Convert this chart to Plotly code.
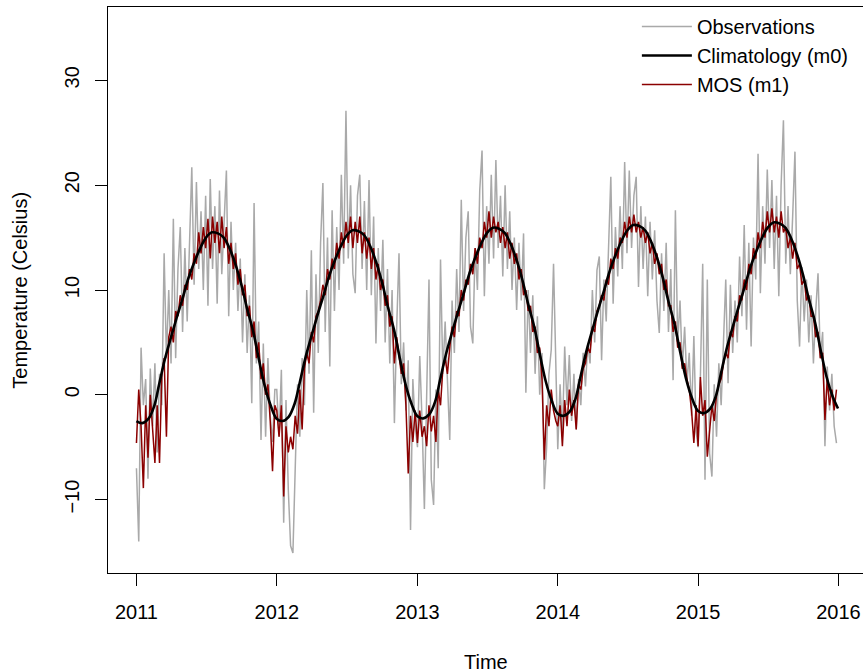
import pandas as pd
import plotly.graph_objects as go

years = [2011, 2012, 2013, 2014, 2015]
x_tick_labels = ["2011", "2012", "2013", "2014", "2015", "2016"]
y_tick_values = [-10, 0, 10, 20, 30]

# Observations, sampled every 6 days from Jan 1 of each year (61 per year)
obs_2011 = [-7.0, -14.0, 4.5, -1.0, 1.5, -8.0, 2.5, -3.0, 3.0, -5.5, 2.0, -1.0, 13.5, 3.5, 10.0, 3.0,
            16.8, 3.5, 12.0, 16.0, 6.0, 14.0, 7.0, 15.5, 21.7, 10.5, 20.3, 12.0, 17.5, 10.0, 19.0, 8.5,
            20.6, 12.0, 18.0, 8.7, 19.5, 11.5, 17.0, 21.4, 7.5, 16.5, 10.0, 14.5, 8.0, 13.0, 5.0, 11.5,
            4.0, 9.5, -0.8, 18.3, 3.0, 7.0, -4.3, 4.9, -4.0, 3.5, -2.0, -4.5, 0.5]
obs_2012 = [0.5, -4.0, 2.4, -12.2, -0.5, -9.0, -14.4, -15.1, -8.0, 1.0, -4.0, 3.5, -1.0, 10.0, 2.0, 13.8,
            -1.7, 11.5, 4.0, 14.5, 20.2, 6.0, 15.0, 2.7, 17.6, 8.0, 16.0, 10.0, 21.0, 12.5, 27.1, 13.0,
            20.0, 11.5, 9.7, 19.0, 21.0, 12.0, 18.5, 10.0, 20.5, 9.5, 17.0, 4.9, 14.0, 8.0, 14.8, 5.0,
            12.0, 3.0, 10.0, -2.7, 6.5, 13.5, 1.0, 5.0, -1.5, 3.3, -12.9, 1.5, -3.0]
obs_2013 = [-5.0, 3.7, -2.5, -10.9, -1.0, 11.0, -8.1, -10.5, 0.5, -7.0, 12.9, 2.0, 7.0, 0.5, -4.3, 9.0,
            4.0, 12.0, 6.0, 18.6, 8.0, 15.0, 17.5, 6.5, 4.9, 14.0, 10.0, 19.5, 23.3, 9.4, 18.0, 12.5,
            21.0, 13.0, 22.4, 14.0, 19.0, 11.3, 20.0, 12.0, 17.5, 10.0, 15.0, 8.1, 14.5, 9.0, 15.4, 0.2,
            10.0, 4.0, 9.5, 2.0, 7.5, 0.0, 4.0, -9.0, -5.0, 2.0, 4.3, 12.5, 1.0]
obs_2014 = [-5.2, 1.0, -4.0, 4.6, -1.0, 3.8, -2.5, 2.0, -3.3, 1.5, -1.0, 4.0, 0.8, 4.9, 3.0, 10.0,
            5.0, 11.9, 13.2, 3.3, 11.0, 7.0, 14.4, 20.8, 8.7, 16.0, 11.3, 18.0, 12.0, 22.2, 13.5, 21.4,
            14.0, 19.0, 20.8, 10.3, 18.0, 12.0, 17.0, 9.4, 16.5, 11.0, 15.7, 9.0, 5.9, 13.5, 8.0, 14.5,
            6.0, 12.0, 1.4, 17.6, 5.0, 9.0, 2.5, 6.5, 1.1, 4.0, -2.0, 5.6, -3.5]
obs_2015 = [-5.0, 1.7, 12.5, -8.1, 11.0, -5.6, -7.8, 1.0, -4.0, 3.0, -1.0, 5.0, 11.0, 1.1, 10.5, 4.0,
            9.0, 5.0, 13.2, 7.5, 16.2, 6.2, 14.5, 4.6, 15.0, 11.0, 23.0, 9.7, 18.0, 12.5, 21.5, 14.0,
            20.5, 12.0, 19.0, 9.4, 20.0, 26.2, 12.5, 18.0, 11.5, 17.0, 23.2, 9.0, 4.6, 12.2, 7.0, 11.0,
            5.0, 9.5, 3.0, 8.0, 11.6, 3.5, 6.0, -4.9, 2.7, -1.5, 2.0, -3.0, -4.6]

# MOS (m1), same sampling
mos_2011 = [-4.6, 0.5, -3.0, -8.9, -1.0, -6.0, 0.0, -3.5, -6.5, -1.0, -6.5, 2.0, 3.5, -4.0, 5.5, 6.5,
            5.0, 8.0, 7.5, 9.5, 8.5, 10.5, 10.0, 12.0, 11.0, 13.5, 12.5, 15.5, 13.5, 16.0, 14.0, 16.8,
            13.0, 17.0, 14.5, 16.5, 13.5, 17.0, 14.0, 16.0, 12.5, 14.5, 12.0, 13.5, 10.5, 12.0, 9.5, 10.5,
            7.5, 8.5, 5.5, 7.0, 3.5, 5.0, 1.5, 3.0, 0.0, 1.0, -2.5, -7.3, -1.0]
mos_2012 = [-1.5, -4.0, -1.0, -9.7, -3.0, -5.5, -4.0, -5.2, -2.0, -3.7, 0.5, -3.3, 2.5, 4.0, 3.0, 6.0,
            5.0, 7.5, 8.0, 9.0, 10.5, 9.5, 12.0, 11.0, 13.0, 12.0, 14.5, 13.0, 15.5, 14.0, 16.5, 14.5,
            17.0, 14.0, 16.5, 14.5, 17.0, 13.5, 15.5, 13.0, 15.0, 12.0, 14.0, 11.0, 12.5, 10.0, 11.0, 8.5,
            9.5, 6.5, 7.5, 3.0, 5.5, 3.5, 2.0, 3.0, -1.0, -7.5, -2.0, -4.5, -1.5]
mos_2013 = [-4.6, -1.5, -4.0, -3.0, -4.9, -1.0, -3.5, -2.0, -4.5, 0.5, -1.0, 2.5, 3.5, 2.0, 4.5, 6.5,
            5.5, 8.0, 7.5, 10.0, 9.0, 11.0, 10.5, 12.5, 11.5, 14.0, 12.5, 15.0, 14.0, 16.5, 15.0, 17.5,
            15.0, 17.0, 15.5, 16.5, 14.5, 16.0, 14.0, 15.5, 13.0, 14.5, 12.5, 13.5, 11.0, 12.0, 9.5, 10.0,
            8.0, 8.5, 6.0, 6.5, 4.0, 4.5, 1.5, -6.2, -1.0, -3.0, 0.5, -1.5, -2.5]
mos_2014 = [-3.0, -1.0, -4.9, -0.5, -3.0, 0.5, -2.0, -0.5, -3.3, 1.0, 0.5, 2.5, 3.0, 4.5, 4.0, 6.5,
            6.0, 8.0, 8.5, 9.5, 9.0, 11.0, 10.5, 13.0, 12.0, 14.0, 13.0, 15.0, 14.5, 16.5, 15.0, 17.0,
            15.5, 17.2, 15.5, 16.5, 15.0, 16.0, 14.5, 15.5, 13.5, 14.5, 12.5, 13.5, 11.5, 12.5, 10.0, 11.0,
            8.5, 8.5, 6.0, 7.0, 4.5, 5.0, 2.5, 3.0, 1.5, 0.5, -1.5, -4.6, -1.0]
mos_2015 = [-4.9, 1.7, -2.0, -0.5, -5.9, -3.0, -1.0, -2.5, 0.0, 1.0, 1.5, 3.0, 4.0, 3.5, 6.0, 5.5,
            7.5, 7.0, 9.5, 9.0, 11.0, 10.0, 12.5, 11.5, 14.0, 13.0, 15.5, 14.0, 16.5, 15.0, 17.5, 15.5,
            17.8, 15.5, 17.0, 15.0, 17.5, 15.5, 16.0, 14.0, 15.0, 13.0, 14.5, 12.0, 12.5, 10.5, 11.0, 9.0,
            9.5, 7.5, 7.5, 5.5, 6.0, 3.5, 4.0, -2.4, 1.5, -1.0, 0.5, -1.5, 0.5]

# Climatology (m0), on the 1st and 16th of each month
clim_2011 = [-2.5, -2.7, -2.3, -1.1, 1.0, 3.4, 5.5, 7.4, 9.2, 11.1, 12.7, 14.0,
             15.0, 15.5, 15.4, 15.0, 13.9, 12.4, 10.5, 8.2, 6.0, 3.3, 0.8, -1.0]
clim_2012 = [-2.3, -2.5, -2.1, -0.9, 1.2, 3.6, 5.7, 7.6, 9.4, 11.3, 12.9, 14.2,
             15.2, 15.7, 15.6, 15.2, 14.1, 12.6, 10.7, 8.4, 6.2, 3.5, 1.0, -0.8]
clim_2013 = [-2.05, -2.25, -1.85, -0.65, 1.45, 3.85, 5.95, 7.85, 9.65, 11.55, 13.15, 14.45,
             15.45, 15.95, 15.85, 15.45, 14.35, 12.85, 10.95, 8.65, 6.45, 3.75, 1.25, -0.55]
clim_2014 = [-1.8, -2.0, -1.6, -0.4, 1.7, 4.1, 6.2, 8.1, 9.9, 11.8, 13.4, 14.7,
             15.7, 16.2, 16.1, 15.7, 14.6, 13.1, 11.2, 8.9, 6.7, 4.0, 1.5, -0.3]
clim_2015 = [-1.55, -1.75, -1.35, -0.15, 1.95, 4.35, 6.45, 8.35, 10.15, 12.05, 13.65, 14.95,
             15.95, 16.45, 16.35, 15.95, 14.85, 13.35, 11.45, 9.15, 6.95, 4.25, 1.75, -0.05]
clim_end = [-1.3]

obs = obs_2011 + obs_2012 + obs_2013 + obs_2014 + obs_2015
mos = mos_2011 + mos_2012 + mos_2013 + mos_2014 + mos_2015
clim = clim_2011 + clim_2012 + clim_2013 + clim_2014 + clim_2015 + clim_end

t_obs = []
for y in years:
    t_obs += list(pd.date_range(f"{y}-01-01", periods=61, freq="6D"))
t_clim = [pd.Timestamp(y, m, d) for y in years for m in range(1, 13) for d in (1, 16)]
t_clim.append(pd.Timestamp(2015, 12, 31))

fig = go.Figure()
fig.add_trace(go.Scatter(x=t_obs, y=obs, mode="lines", name="Observations",
                         line=dict(color="#A9A9A9", width=1.5), legendrank=1))
fig.add_trace(go.Scatter(x=t_obs, y=mos, mode="lines", name="MOS (m1)",
                         line=dict(color="#8B0000", width=1.5), legendrank=3))
fig.add_trace(go.Scatter(x=t_clim, y=clim, mode="lines", name="Climatology (m0)",
                         line=dict(color="black", width=2.6, shape="spline", smoothing=1.0),
                         legendrank=2))

fig.update_layout(
    width=863, height=672,
    margin=dict(l=108, r=0, t=7, b=99),
    paper_bgcolor="white", plot_bgcolor="white",
    font=dict(family="Liberation Sans, Arial, sans-serif", size=20, color="black"),
    showlegend=True,
    legend=dict(x=0.7005, y=1.0, xanchor="left", yanchor="top",
                bgcolor="rgba(0,0,0,0)", borderwidth=0, itemwidth=50,
                tracegroupgap=0, font=dict(size=20)),
    xaxis=dict(type="date", range=["2010-10-19", "2016-03-05"],
               tickvals=[f"{y}-01-01" for y in range(2011, 2017)], ticktext=x_tick_labels,
               ticks="outside", ticklen=12, tickwidth=1, tickcolor="black",
               ticklabelstandoff=9,
               showline=True, linecolor="black", linewidth=1, mirror=True,
               showgrid=False, zeroline=False),
    yaxis=dict(range=[-17, 37], tickvals=y_tick_values, tickangle=-90,
               ticks="outside", ticklen=12, tickwidth=1, tickcolor="black",
               ticklabelstandoff=8,
               showline=True, linecolor="black", linewidth=1, mirror=False,
               showgrid=False, zeroline=False),
    annotations=[
        dict(text="Time", xref="paper", yref="paper", x=0.5, y=-0.157,
             xanchor="center", yanchor="middle", showarrow=False, font=dict(size=20)),
        dict(text="Temperature (Celsius)", xref="paper", yref="paper", x=-0.117, y=0.5,
             xanchor="center", yanchor="middle", textangle=-90, showarrow=False,
             font=dict(size=20)),
    ],
)

fig.write_html("out.html")
